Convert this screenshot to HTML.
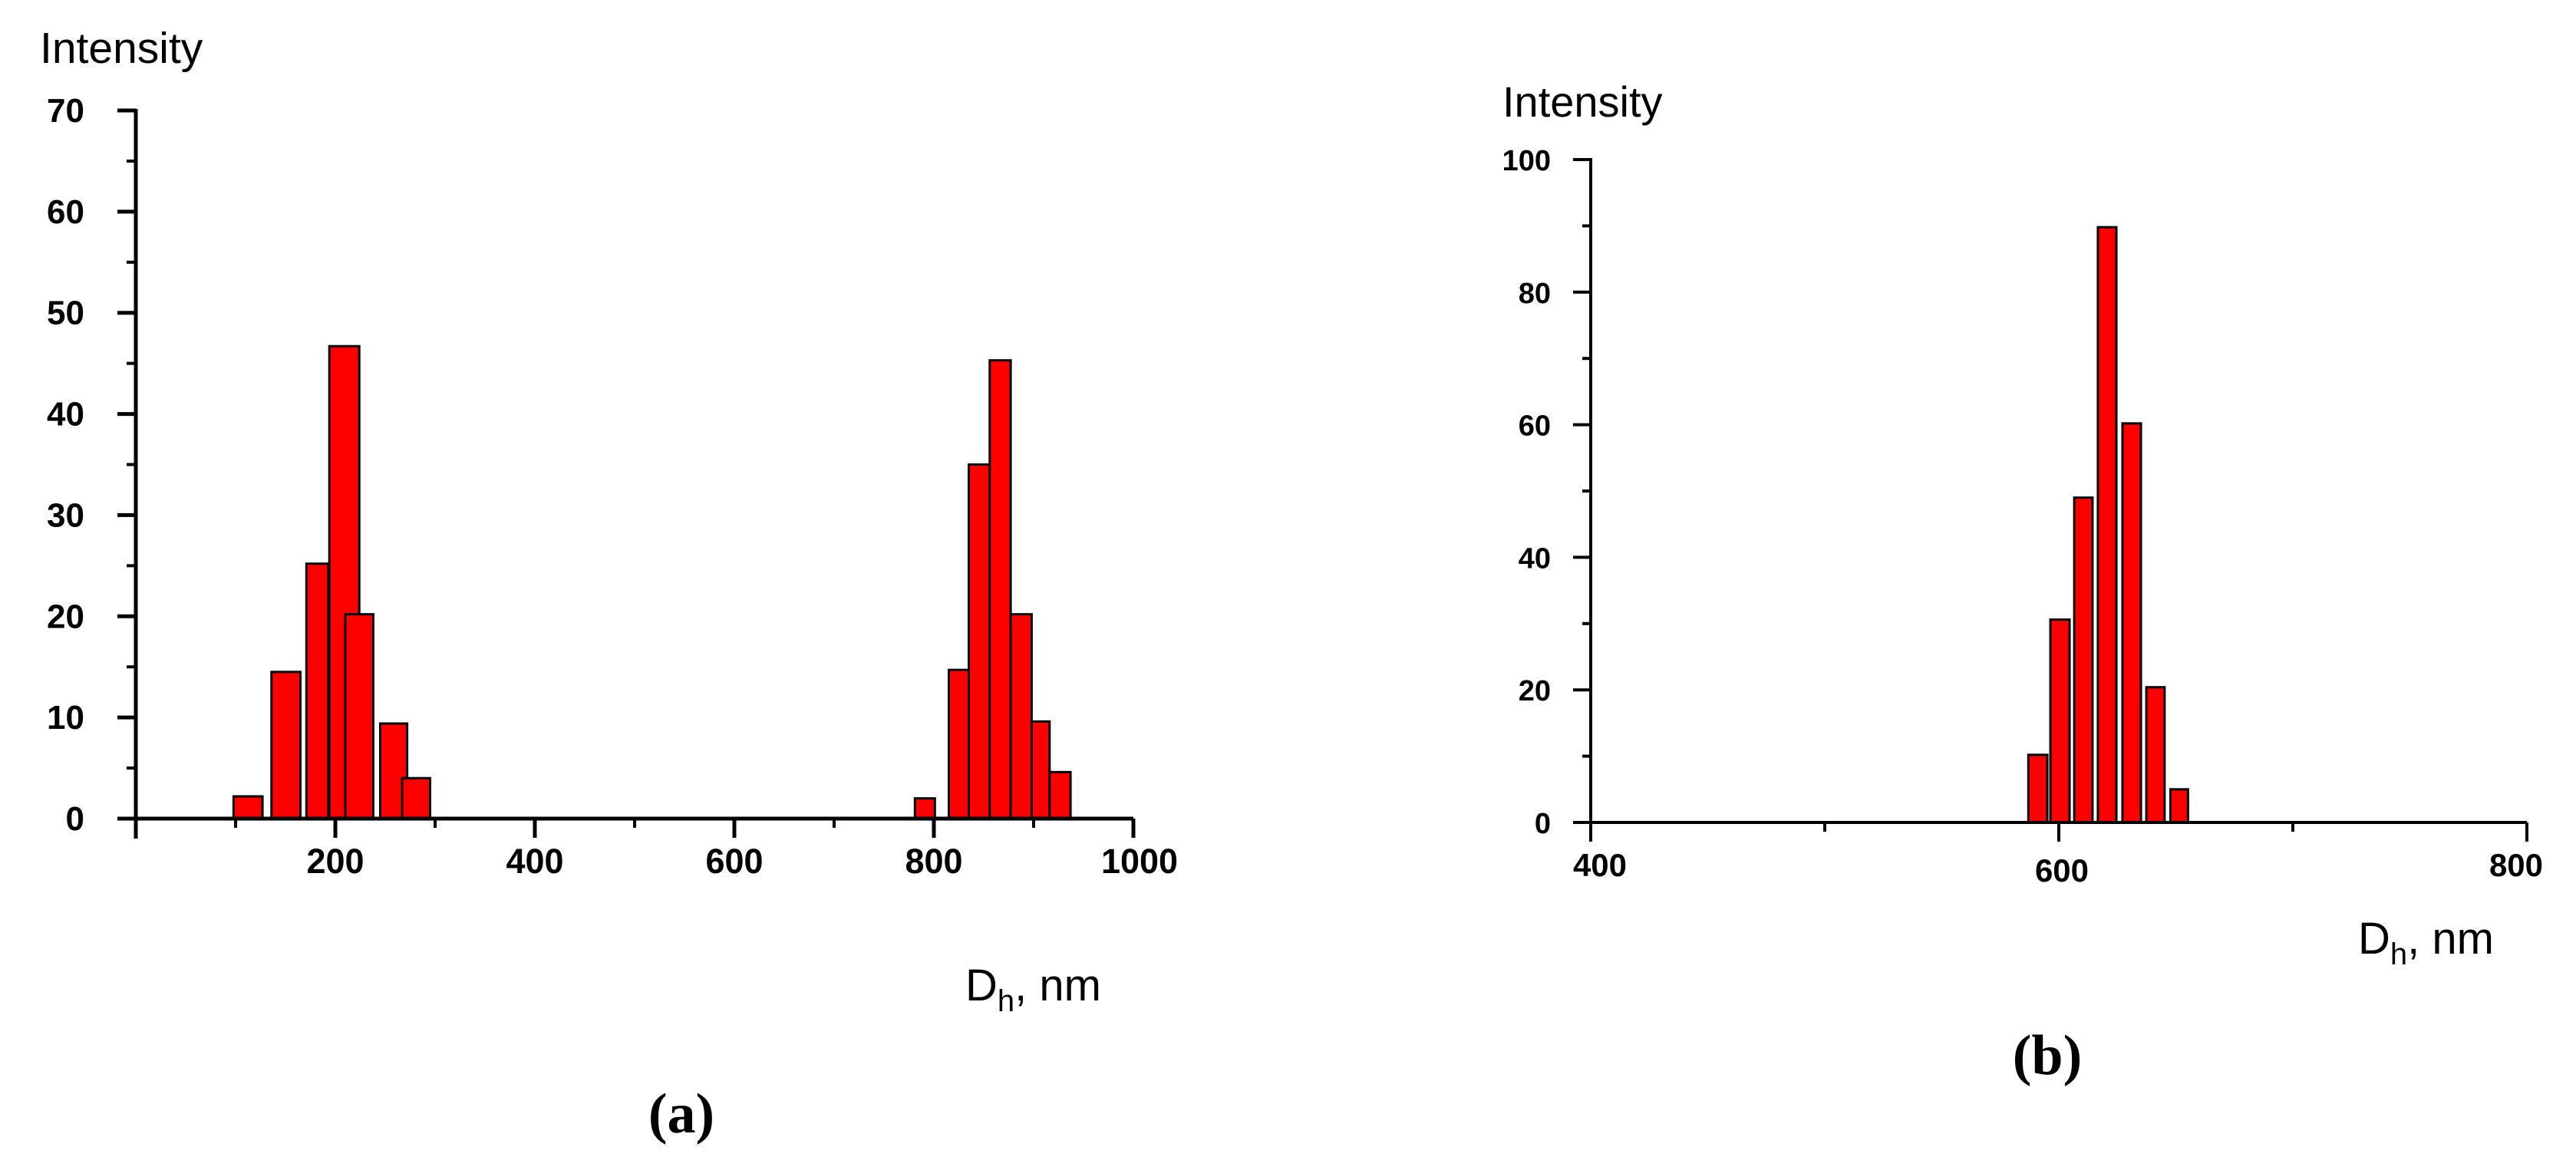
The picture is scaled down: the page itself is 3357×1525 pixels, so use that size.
<!DOCTYPE html>
<html><head><meta charset="utf-8">
<style>
html,body{margin:0;padding:0;background:#fff;}
svg{display:block;}
text{font-family:"Liberation Sans",Arial,sans-serif;fill:#000;}
.tl{font-weight:bold;}
.cap{font-family:"Liberation Serif","Times New Roman",serif;font-weight:bold;}
</style></head>
<body>
<svg id="fig" width="3357" height="1525" viewBox="0 0 3357 1525" xmlns="http://www.w3.org/2000/svg">
<g id="chartA"></g>
<g id="chartB"></g>
<text x="52" y="82" font-size="57">Intensity</text>
<text x="1258" y="1304" font-size="58">D<tspan font-size="40" dy="14">h</tspan><tspan dy="-14">, nm</tspan></text>
<text x="888" y="1476" font-size="74" text-anchor="middle" class="cap">(a)</text>
<text x="1958" y="152" font-size="56">Intensity</text>
<text x="3073" y="1243" font-size="58">D<tspan font-size="40" dy="14">h</tspan><tspan dy="-14">, nm</tspan></text>
<text x="2668" y="1400" font-size="74" text-anchor="middle" class="cap">(b)</text>
</svg>
<script>
// Chart (a) data
const aBinStart = [98, 136, 171, 194, 210, 245, 267, 781, 815, 835, 856, 877, 898, 916];
const aBinEnd   = [127, 165, 193, 224, 238, 272, 295, 801, 835, 856, 877, 898, 916, 937];
const aValues   = [2.2, 14.5, 25.2, 46.7, 20.2, 9.4, 4, 2, 14.7, 35, 45.3, 20.2, 9.6, 4.6];
const aXTicks = [200, 400, 600, 800, 1000];
const aXMinor = [0, 100, 300, 500, 700, 900];
const aYTicks = [0, 10, 20, 30, 40, 50, 60, 70];
const aYMinor = [5, 15, 25, 35, 45, 55, 65];
// Chart (b) data
const bBinStart = [587, 596.4, 606.6, 616.7, 627.2, 637.4, 647.7];
const bBinEnd   = [595.1, 604.6, 614.4, 624.6, 635.1, 645.2, 655.2];
const bValues   = [10.2, 30.6, 49, 89.8, 60.2, 20.4, 5.0];
const bXTicks = [400, 600, 800];
const bXMinor = [500, 700];
const bYTicks = [0, 20, 40, 60, 80, 100];
const bYMinor = [10, 30, 50, 70, 90];

const NS = "http://www.w3.org/2000/svg";
function mk(parent, tag, attrs){
  const e = document.createElementNS(NS, tag);
  for (const k in attrs) e.setAttribute(k, attrs[k]);
  parent.appendChild(e);
  return e;
}

// ---- Chart A ----
(function(){
  const g = document.getElementById('chartA');
  const x = v => 177 + (v - 0) * 1.30;
  const y = v => 1067 - v * (1067 - 144) / 70;
  for (let i = 0; i < aValues.length; i++) {
    const r = mk(g, 'rect', {x: x(aBinStart[i]), y: y(aValues[i]), width: x(aBinEnd[i]) - x(aBinStart[i]), height: y(0) - y(aValues[i]), fill: '#ff0000', stroke: '#000', 'stroke-width': 3});
    
    
  }
  const xa = mk(g, 'line', {x1: 153, y1: y(0), x2: x(1000), y2: y(0), stroke: '#000', 'stroke-width': 5});
  
  
  const ya = mk(g, 'line', {x1: 177, y1: y(70) - 2, x2: 177, y2: y(0) + 26, stroke: '#000', 'stroke-width': 5});
  
  
  aXTicks.forEach(v => {
    mk(g, 'line', {x1: x(v), y1: y(0), x2: x(v), y2: y(0) + 25, stroke: '#000', 'stroke-width': 5});
    const t = mk(g, 'text', {x: v === 1000 ? x(v) + 8 : x(v), y: 1138, 'font-size': 45, 'text-anchor': 'middle', class: 'tl'});
    t.textContent = v;
    
    
  });
  aXMinor.forEach(v => mk(g, 'line', {x1: x(v), y1: y(0), x2: x(v), y2: y(0) + 12, stroke: '#000', 'stroke-width': 4}));
  aYTicks.forEach(v => {
    mk(g, 'line', {x1: 153, y1: y(v), x2: 177, y2: y(v), stroke: '#000', 'stroke-width': 5});
    const t = mk(g, 'text', {x: 110, y: y(v) + 15, 'font-size': 44, 'text-anchor': 'end', class: 'tl'});
    t.textContent = v;
    
    
  });
  aYMinor.forEach(v => mk(g, 'line', {x1: 165, y1: y(v), x2: 177, y2: y(v), stroke: '#000', 'stroke-width': 4}));
})();

// ---- Chart B ----
(function(){
  const g = document.getElementById('chartB');
  const x = v => 2073 + (v - 400) * 3.05;
  const y = v => 1072 - v * (1072 - 208) / 100;
  for (let i = 0; i < bValues.length; i++) {
    const r = mk(g, 'rect', {x: x(bBinStart[i]), y: y(bValues[i]), width: x(bBinEnd[i]) - x(bBinStart[i]), height: y(0) - y(bValues[i]), fill: '#ff0000', stroke: '#000', 'stroke-width': 3});
    
    
  }
  const xa = mk(g, 'line', {x1: 2050, y1: y(0), x2: x(800), y2: y(0), stroke: '#000', 'stroke-width': 4});
  
  
  const ya = mk(g, 'line', {x1: 2073, y1: y(100) - 2, x2: 2073, y2: y(0) + 25, stroke: '#000', 'stroke-width': 4});
  
  
  bXTicks.forEach(v => {
    mk(g, 'line', {x1: x(v), y1: y(0), x2: x(v), y2: y(0) + 25, stroke: '#000', 'stroke-width': 4});
    const dx = v === 400 ? 12 : (v === 800 ? -14 : 4);
    const dy = v === 600 ? 1149 : 1142;
    const t = mk(g, 'text', {x: x(v) + dx, y: dy, 'font-size': 42, 'text-anchor': 'middle', class: 'tl'});
    t.textContent = v;
    
    
  });
  bXMinor.forEach(v => mk(g, 'line', {x1: x(v), y1: y(0), x2: x(v), y2: y(0) + 12, stroke: '#000', 'stroke-width': 4}));
  bYTicks.forEach(v => {
    mk(g, 'line', {x1: 2050, y1: y(v), x2: 2073, y2: y(v), stroke: '#000', 'stroke-width': 4});
    const t = mk(g, 'text', {x: 2021, y: y(v) + 14, 'font-size': 38, 'text-anchor': 'end', class: 'tl'});
    t.textContent = v;
    
    
  });
  bYMinor.forEach(v => mk(g, 'line', {x1: 2062, y1: y(v), x2: 2073, y2: y(v), stroke: '#000', 'stroke-width': 4}));
})();
</script>
</body></html>
